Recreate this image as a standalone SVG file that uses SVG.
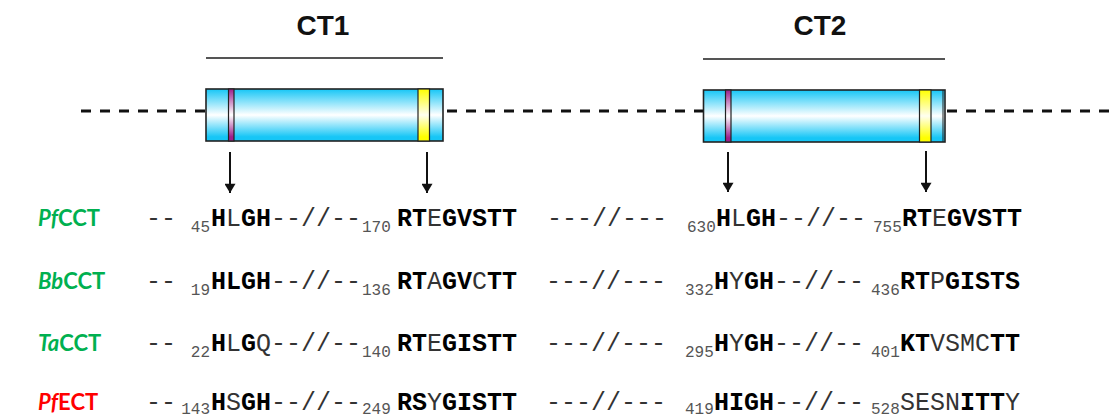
<svg xmlns="http://www.w3.org/2000/svg" width="1116" height="419" viewBox="0 0 1116 419">
<style>
.title{font-family:"Liberation Sans",Arial,sans-serif;font-weight:bold;font-size:28px;fill:#111;text-anchor:middle}
.bar{stroke:#555;stroke-width:2}
.dash{stroke:#111;stroke-width:3;stroke-dasharray:10 9;fill:none}
.box{fill:url(#cyl);stroke:#222;stroke-width:1.6}
.mag{fill:url(#magg);stroke:#222;stroke-width:1.2}
.yel{fill:url(#yelg);stroke:#222;stroke-width:1.2}
.arr{stroke:#111;stroke-width:2;fill:none}
.lab{font-family:Lato,"Noto Sans",sans-serif;font-weight:bold;font-size:22px}
.g{fill:#00B050}
.r{fill:#FF0000}
.seq{font-family:"Liberation Mono","Courier New",monospace;font-size:25px;fill:#333}
.sub{font-family:"Liberation Mono","Courier New",monospace;font-size:16px;fill:#555}
.b{font-weight:bold;fill:#000}
</style>
<defs>
<linearGradient id="cyl" x1="0" y1="0" x2="0" y2="1">
<stop offset="0" stop-color="#16C6F6"/>
<stop offset="0.5" stop-color="#FFFFFF"/>
<stop offset="0.92" stop-color="#16C6F6"/>
<stop offset="1" stop-color="#16C6F6"/>
</linearGradient>
<linearGradient id="magg" x1="0" y1="0" x2="0" y2="1">
<stop offset="0" stop-color="#9C1F8C"/>
<stop offset="0.5" stop-color="#FFFFFF"/>
<stop offset="0.92" stop-color="#9C1F8C"/>
<stop offset="1" stop-color="#9C1F8C"/>
</linearGradient>
<linearGradient id="yelg" x1="0" y1="0" x2="0" y2="1">
<stop offset="0" stop-color="#FFFF00"/>
<stop offset="0.5" stop-color="#FFFFF0"/>
<stop offset="0.92" stop-color="#FFFF00"/>
<stop offset="1" stop-color="#FFFF00"/>
</linearGradient>
<marker id="ah" viewBox="0 0 10 12" refX="10" refY="6" markerWidth="12" markerHeight="11" markerUnits="userSpaceOnUse" orient="auto">
<path d="M0,0 L10,6 L0,12 Z" fill="#111"/>
</marker>
</defs>

<g id="connectors">
<line class="dash" x1="81" y1="111" x2="206" y2="111"/>
<line class="dash" x1="447" y1="111" x2="703" y2="111"/>
<line class="dash" x1="947" y1="111" x2="1116" y2="111"/>
<line class="arr" x1="230" y1="152" x2="230" y2="193" marker-end="url(#ah)"/>
<line class="arr" x1="427" y1="152" x2="427" y2="193" marker-end="url(#ah)"/>
<line class="arr" x1="728" y1="152" x2="728" y2="192" marker-end="url(#ah)"/>
<line class="arr" x1="926" y1="151" x2="926" y2="192" marker-end="url(#ah)"/>
</g>

<g id="ct1">
<text class="title" x="323" y="35">CT1</text>
<line class="bar" x1="206" y1="58" x2="443" y2="58"/>
<rect class="box" x="206" y="89" width="237" height="52"/>
<rect class="mag" x="228.5" y="89" width="5.5" height="52"/>
<rect class="yel" x="418" y="89" width="11.5" height="52"/>
</g>

<g id="ct2">
<text class="title" x="820" y="35">CT2</text>
<line class="bar" x1="703" y1="59" x2="945" y2="59"/>
<rect class="box" x="703.5" y="90" width="241.5" height="52"/>
<rect class="mag" x="725.5" y="90" width="5.5" height="52"/>
<rect class="yel" x="919.5" y="90" width="11.5" height="52"/>
<line x1="943" y1="90" x2="943" y2="142" stroke="#222" stroke-width="1"/>
</g>

<g id="row-PfCCT">
<text class="lab g" x="38" y="226"><tspan font-style="italic">Pf</tspan>CCT</text>
<text class="seq" x="146" y="226" xml:space="preserve">-- </text>
<text class="sub" x="210" y="232" text-anchor="end">45</text>
<text class="seq" x="211" y="226"><tspan class="b">H</tspan>L<tspan class="b">GH</tspan>--//--</text>
<text class="sub" x="362" y="232">170</text>
<text class="seq" x="397" y="226"><tspan class="b">RT</tspan>E<tspan class="b">GVSTT</tspan></text>
<text class="seq" x="547" y="226">---//---</text>
<text class="sub" x="687" y="232">630</text>
<text class="seq" x="716" y="226"><tspan class="b">H</tspan>L<tspan class="b">GH</tspan>--//--</text>
<text class="sub" x="873" y="232">755</text>
<text class="seq" x="902" y="226"><tspan class="b">RT</tspan>E<tspan class="b">GVSTT</tspan></text>
</g>

<g id="row-BbCCT">
<text class="lab g" x="38" y="289"><tspan font-style="italic">Bb</tspan>CCT</text>
<text class="seq" x="146" y="289" xml:space="preserve">-- </text>
<text class="sub" x="210" y="295" text-anchor="end">19</text>
<text class="seq" x="211" y="289"><tspan class="b">HLGH</tspan>--//--</text>
<text class="sub" x="362" y="295">136</text>
<text class="seq" x="397" y="289"><tspan class="b">RT</tspan>A<tspan class="b">GV</tspan>C<tspan class="b">TT</tspan></text>
<text class="seq" x="546" y="289">---//---</text>
<text class="sub" x="685" y="295">332</text>
<text class="seq" x="714" y="289"><tspan class="b">H</tspan>Y<tspan class="b">GH</tspan>--//--</text>
<text class="sub" x="871" y="295">436</text>
<text class="seq" x="900" y="289"><tspan class="b">RT</tspan>P<tspan class="b">GISTS</tspan></text>
</g>

<g id="row-TaCCT">
<text class="lab g" x="38" y="351"><tspan font-style="italic">Ta</tspan>CCT</text>
<text class="seq" x="146" y="351" xml:space="preserve">-- </text>
<text class="sub" x="210" y="357" text-anchor="end">22</text>
<text class="seq" x="211" y="351"><tspan class="b">H</tspan>L<tspan class="b">G</tspan>Q--//--</text>
<text class="sub" x="362" y="357">140</text>
<text class="seq" x="397" y="351"><tspan class="b">RT</tspan>E<tspan class="b">GISTT</tspan></text>
<text class="seq" x="546" y="351">---//---</text>
<text class="sub" x="685" y="357">295</text>
<text class="seq" x="714" y="351"><tspan class="b">H</tspan>Y<tspan class="b">GH</tspan>--//--</text>
<text class="sub" x="871" y="357">401</text>
<text class="seq" x="900" y="351"><tspan class="b">KT</tspan>VSMC<tspan class="b">TT</tspan></text>
</g>

<g id="row-PfECT">
<text class="lab r" x="38" y="410"><tspan font-style="italic">Pf</tspan>ECT</text>
<text class="seq" x="146" y="410">--</text>
<text class="sub" x="210" y="414" text-anchor="end">143</text>
<text class="seq" x="211" y="410"><tspan class="b">H</tspan>S<tspan class="b">GH</tspan>--//--</text>
<text class="sub" x="362" y="414">249</text>
<text class="seq" x="397" y="410"><tspan class="b">RS</tspan>Y<tspan class="b">GISTT</tspan></text>
<text class="seq" x="546" y="410">---//---</text>
<text class="sub" x="685" y="414">419</text>
<text class="seq" x="714" y="410"><tspan class="b">HIGH</tspan>--//--</text>
<text class="sub" x="871" y="414">528</text>
<text class="seq" x="900" y="410">SESN<tspan class="b">ITT</tspan>Y</text>
</g>
</svg>
